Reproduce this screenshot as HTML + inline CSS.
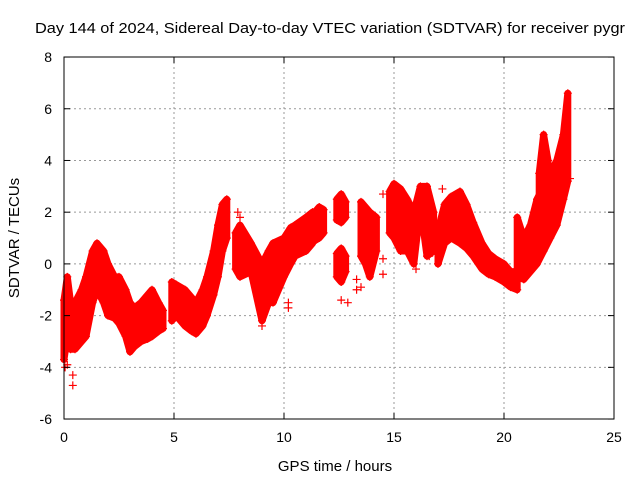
<!DOCTYPE html>
<html><head><meta charset="utf-8"><style>
body{margin:0;background:#fff}
svg{display:block;font-family:"Liberation Sans",sans-serif}
</style></head><body>
<svg id="chart" width="640" height="480" viewBox="0 0 640 480">
<text x="35" y="33" font-size="15" textLength="590" lengthAdjust="spacingAndGlyphs">Day 144 of 2024, Sidereal Day-to-day VTEC variation (SDTVAR) for receiver pygr</text>
<g id="grid"></g>
<g id="marks"></g>
<rect x="64" y="57" width="550" height="362" fill="none" stroke="#000" stroke-width="1"/>
<g id="ticks"></g>
<text x="335" y="471" font-size="15" text-anchor="middle">GPS time / hours</text>
<text transform="translate(19,238) rotate(-90)" font-size="15" text-anchor="middle">SDTVAR / TECUs</text>
</svg>
<script>
const xTicks=[0,5,10,15,20,25];
const yTicks=[-6,-4,-2,0,2,4,6,8];
// groups of samples: time (h), low value, high value (TECU)
const g1T=[0,0.15,0.3,0.5,0.8,1.0,1.3,1.5,1.8,2.0,2.3,2.5,2.8,3.0,3.2,3.5,3.8,4.0,4.3,4.5];
const g1Lo=[-3.7,-2.8,-3.3,-3.3,-3.0,-2.8,-1.5,-1.0,-1.5,-2.0,-2.1,-2.3,-2.8,-3.4,-3.2,-3.0,-2.9,-2.8,-2.6,-2.5];
const g1Hi=[-1.4,-0.5,-1.5,-1.5,-1.0,-0.5,0.5,0.8,0.5,0.0,-0.5,-0.5,-1.0,-1.5,-1.7,-1.5,-1.2,-1.0,-1.5,-1.8];
const g2T=[4.9,5.1,5.5,5.8,6.0,6.3,6.5,6.8,7.0,7.2,7.4];
const g2Lo=[-2.2,-2.0,-2.4,-2.6,-2.7,-2.4,-2.0,-1.2,-0.5,0.5,1.0];
const g2Hi=[-0.7,-0.8,-1.0,-1.3,-1.5,-1.0,-0.5,0.5,1.5,2.3,2.5];
const g3T=[7.8,8.0,8.5,9.0,9.3,9.5,10.0,10.3,10.5,11.0,11.3];
const g3Lo=[-0.2,-0.5,-0.3,-2.2,-1.5,-1.5,-0.5,0.0,0.3,0.5,0.8];
const g3Hi=[1.2,1.5,0.8,0.0,0.5,0.8,1.0,1.4,1.5,1.8,2.0];
const g4T=[11.4,11.6,11.8];
const g4Lo=[0.9,1.0,1.2];
const g4Hi=[2.0,2.2,2.1];
const g5T=[12.4,12.6,12.8];
const g5Lo=[1.7,1.6,1.8];
const g5Hi=[2.5,2.7,2.4];
const g6T=[12.4,12.6,12.8];
const g6Lo=[-0.5,-0.7,-0.3];
const g6Hi=[0.4,0.6,0.3];
const g7T=[13.5,13.7,13.9,14.2];
const g7Lo=[0.3,0.0,-0.5,0.5];
const g7Hi=[2.4,2.2,2.0,1.8];
const g8T=[14.8,15.0,15.3,15.6,15.9,16.2,16.5,16.8];
const g8Lo=[1.2,1.0,0.5,0.5,0.0,2.2,0.3,0.5];
const g8Hi=[2.8,3.1,2.9,2.5,2.0,3.0,3.0,2.0];
const g9T=[17.0,17.3,17.6,18.0,18.3,18.6,19.0,19.3,19.6,20.0,20.3,20.6];
const g9Lo=[0.0,0.8,1.0,0.8,0.6,0.3,-0.2,-0.4,-0.5,-0.7,-0.9,-1.0];
const g9Hi=[1.3,2.3,2.6,2.8,2.3,1.6,0.8,0.4,0.2,0.0,-0.3,-0.3];
const g10T=[20.6,20.9,21.2,21.5,21.8,22.1,22.4,22.7,22.9];
const g10Lo=[-0.5,-0.6,-0.3,0.0,0.5,1.0,1.5,2.5,3.2];
const g10Hi=[1.8,1.0,1.5,2.5,3.0,3.5,4.0,5.0,6.6];
const g11T=[21.6,21.8,22.0];
const g11Lo=[2.5,3.5,3.0];
const g11Hi=[3.5,5.0,4.0];
// sparse outlier points
const outT=[0.4,0.4,0.15,0.05,3.0,7.9,8.0,9.0,10.2,10.2,12.6,12.9,13.3,13.3,13.5,14.5,14.5,14.5,16.0,16.6,17.2,21.0,23.0];
const outV=[-4.3,-4.7,-3.9,-4.0,-3.3,2.0,1.8,-2.4,-1.7,-1.5,-1.4,-1.5,-0.6,-1.0,-0.9,-0.4,0.2,2.7,-0.2,0.3,2.9,-0.5,3.3];
const groups=[[g1T,g1Lo,g1Hi],[g2T,g2Lo,g2Hi],[g3T,g3Lo,g3Hi],[g4T,g4Lo,g4Hi],[g5T,g5Lo,g5Hi],[g6T,g6Lo,g6Hi],[g7T,g7Lo,g7Hi],[g8T,g8Lo,g8Hi],[g9T,g9Lo,g9Hi],[g10T,g10Lo,g10Hi],[g11T,g11Lo,g11Hi]];
const x=t=>64+t*22;
const y=v=>263.9-v*25.857;
const NS="http://www.w3.org/2000/svg";
const grid=document.getElementById('grid'),ticks=document.getElementById('ticks'),marks=document.getElementById('marks');
function mk(tag,attrs,parent){const e=document.createElementNS(NS,tag);for(const k in attrs)e.setAttribute(k,attrs[k]);parent.appendChild(e);return e;}
xTicks.forEach(t=>{
  if(t>0&&t<25){const l=mk('line',{x1:x(t),x2:x(t),y1:57,y2:419,stroke:'#999','stroke-dasharray':'2,3'},grid);
  
  }
  mk('line',{x1:x(t),x2:x(t),y1:419,y2:413,stroke:'#000'},ticks);
  mk('line',{x1:x(t),x2:x(t),y1:57,y2:63,stroke:'#000'},ticks);
  const tx=mk('text',{x:x(t),y:442,'font-size':14,'text-anchor':'middle'},ticks);tx.textContent=t;
  
  
});
yTicks.forEach(v=>{
  if(v>-6&&v<8){const l=mk('line',{x1:64,x2:614,y1:y(v),y2:y(v),stroke:'#999','stroke-dasharray':'2,3'},grid);
  
  }
  mk('line',{x1:64,x2:70,y1:y(v),y2:y(v),stroke:'#000'},ticks);
  mk('line',{x1:614,x2:608,y1:y(v),y2:y(v),stroke:'#000'},ticks);
  const tx=mk('text',{x:52,y:y(v)+5,'font-size':14,'text-anchor':'end'},ticks);tx.textContent=v;
  
  
});
function plus(t,v){
  const c=mk('path',{d:`M${x(t)-4},${y(v)}h8M${x(t)},${y(v)-4}v8`,stroke:'#f00','stroke-width':1.2},marks);
  
  
}
groups.forEach(([T,Lo,Hi])=>{
  let pts=T.map((t,i)=>x(t)+','+y(Hi[i])).concat(T.map((t,i)=>x(t)+','+y(Lo[i])).reverse()).join(' ');
  const p=mk('polygon',{points:pts,fill:'#f00',stroke:'#f00','stroke-width':7,'stroke-linejoin':'round'},marks);
  
  
  T.forEach((t,i)=>{plus(t,Lo[i]);plus(t,Hi[i]);});
});
outT.forEach((t,i)=>plus(t,outV[i]));
</script>
</body></html>
